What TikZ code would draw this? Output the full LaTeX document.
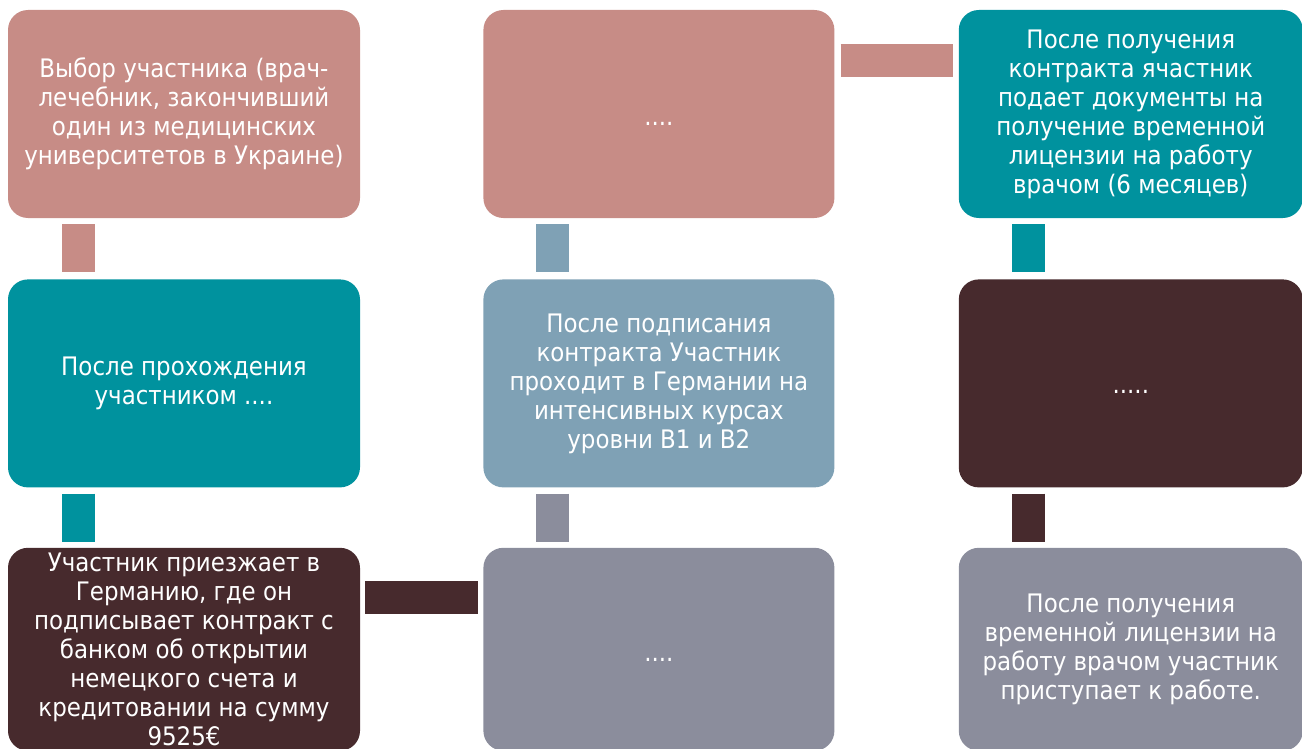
\documentclass[tikz,border=0pt]{standalone}
\usepackage{fontspec}
\setmainfont{DejaVu Sans Condensed}
\usepackage{tikz}
\usetikzlibrary{positioning}

\definecolor{rosec}{HTML}{C78C86}
\definecolor{tealc}{HTML}{00929E}
\definecolor{darkc}{HTML}{472A2D}
\definecolor{steelc}{HTML}{7FA1B5}
\definecolor{greyc}{HTML}{8B8D9C}

\begin{document}
\begin{tikzpicture}[x=1pt, y=-1pt,
		box/.style={rounded corners=20pt, minimum width=352pt, minimum height=208pt,
			inner sep=0pt, text=white, align=center,
			font=\fontsize{25.5}{29}\selectfont},
		link/.style={line width=33pt}]
		
		\useasboundingbox (0,0) rectangle (1302,749);
		
		% --- 1. LEFT COLUMN ---
		\node[box, fill=rosec] (choice) at (184,114)
		{Выбор участника (врач-\\лечебник, закончивший\\один из медицинских\\университетов в Украине)};
		\node[box, fill=tealc, below=61pt of choice] (exam)
		{После прохождения\\участником ....};
		\node[box, fill=darkc, below=60pt of exam, minimum height=203pt] (arrive)
		{Участник приезжает в\\Германию, где он\\подписывает контракт с\\банком об открытии\\немецкого счета и\\кредитовании на сумму\\9525€};
		
		% --- 2. MIDDLE COLUMN ---
		\node[box, fill=rosec, right=123pt of choice, minimum width=351pt] (dotsA) {\strut\raisebox{-6pt}{....}};
		\node[box, fill=steelc, right=123pt of exam, minimum width=351pt] (course)
		{После подписания\\контракта Участник\\проходит в Германии на\\интенсивных курсах\\уровни B1 и B2};
		\node[box, fill=greyc, right=123pt of arrive, minimum width=351pt, minimum height=203pt] (dotsB) {\strut\raisebox{-6pt}{....}};
		
		% --- 3. RIGHT COLUMN ---
		\node[box, fill=tealc, right=124pt of dotsA, minimum width=344pt] (apply)
		{После получения\\контракта ячастник\\подает документы на\\получение временной\\лицензии на работу\\врачом (6 месяцев)};
		\node[box, fill=darkc, right=124pt of course, minimum width=344pt] (dotsC) {\strut\raisebox{-4pt}{.....}};
		\node[box, fill=greyc, right=124pt of dotsB, minimum width=344pt, minimum height=203pt] (work)
		{После получения\\временной лицензии на\\работу врачом участник\\приступает к работе.};
		
		% --- 4. CONNECTING BARS ---
		% vertical bars, about 70pt in from the left edge of each box
		\draw[link, rosec] ([xshift=70.5pt, yshift=-6pt]choice.south west) -- ([xshift=70.5pt, yshift=7pt]exam.north west);
		\draw[link, tealc] ([xshift=70.5pt, yshift=-6pt]exam.south west) -- ([xshift=70.5pt, yshift=6pt]arrive.north west);
		\draw[link, steelc] ([xshift=69.5pt, yshift=-6pt]dotsA.south west) -- ([xshift=69.5pt, yshift=7pt]course.north west);
		\draw[link, greyc] ([xshift=69.5pt, yshift=-6pt]course.south west) -- ([xshift=69.5pt, yshift=6pt]dotsB.north west);
		\draw[link, tealc] ([xshift=70pt, yshift=-6pt]apply.south west) -- ([xshift=70pt, yshift=7pt]dotsC.north west);
		\draw[link, darkc] ([xshift=70pt, yshift=-6pt]dotsC.south west) -- ([xshift=70pt, yshift=6pt]work.north west);
		
		% horizontal bars
		\draw[link, darkc] ([xshift=5pt, yshift=-49.5pt]arrive.north east) -- ([xshift=-5pt, yshift=-49.5pt]dotsB.north west);
		\draw[link, rosec] ([xshift=6pt, yshift=-50.5pt]dotsA.north east) -- ([xshift=-6pt, yshift=-50.5pt]apply.north west);
		
	\end{tikzpicture}
\end{document}
